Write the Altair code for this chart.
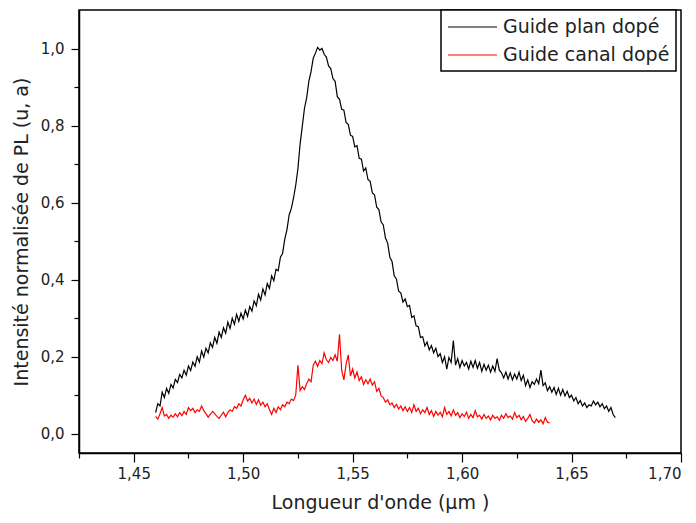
import altair as alt
import pandas as pd

# Wavelength grid (µm): first sample and spacing of the recorded spectra
X_START = 1.460
X_STEP = 0.001

# Normalised PL intensity, planar doped guide (1.460 -> 1.670 µm)
plan = [
    0.055, 0.078, 0.072, 0.108, 0.094, 0.118, 0.105, 0.128, 0.119, 0.141,
    0.133, 0.154, 0.145, 0.165, 0.152, 0.176, 0.164, 0.186, 0.175, 0.2,
    0.186, 0.215, 0.199, 0.222, 0.21, 0.236, 0.224, 0.25, 0.235, 0.264,
    0.25, 0.275, 0.261, 0.29, 0.273, 0.3, 0.284, 0.31, 0.292, 0.313,
    0.298, 0.321, 0.305, 0.33, 0.318, 0.345, 0.332, 0.362, 0.347, 0.376,
    0.36, 0.39, 0.377, 0.41, 0.397, 0.427, 0.423, 0.458, 0.468, 0.505,
    0.53, 0.568, 0.585, 0.612, 0.645, 0.688, 0.752, 0.798, 0.845, 0.872,
    0.915, 0.94, 0.975, 0.988, 1.003, 0.996, 1.0, 0.985, 0.978, 0.955,
    0.948, 0.922, 0.915, 0.875, 0.868, 0.842, 0.84, 0.808, 0.803, 0.775,
    0.772, 0.745, 0.748, 0.715, 0.713, 0.682, 0.69, 0.66, 0.655, 0.625,
    0.62, 0.588, 0.582, 0.55, 0.542, 0.508, 0.495, 0.458, 0.447, 0.41,
    0.402, 0.37, 0.366, 0.342, 0.35, 0.33, 0.333, 0.302, 0.306, 0.28,
    0.278, 0.25, 0.252, 0.228, 0.238, 0.218, 0.229, 0.21, 0.222, 0.2,
    0.208, 0.185, 0.2, 0.168, 0.198, 0.185, 0.242, 0.178, 0.195, 0.172,
    0.19, 0.176, 0.185, 0.168, 0.188, 0.172, 0.19, 0.17, 0.185, 0.162,
    0.18, 0.165, 0.178, 0.16, 0.176, 0.162, 0.195, 0.165, 0.158, 0.145,
    0.16, 0.142, 0.158, 0.14, 0.155, 0.142, 0.16, 0.138, 0.152, 0.125,
    0.14, 0.12, 0.135, 0.128, 0.142, 0.13, 0.165, 0.125, 0.132, 0.112,
    0.122, 0.108, 0.12, 0.102, 0.118, 0.1, 0.115, 0.098, 0.11, 0.094,
    0.1, 0.085, 0.094, 0.078, 0.086, 0.072, 0.08, 0.068, 0.075, 0.072,
    0.085, 0.075, 0.082, 0.07, 0.078, 0.065, 0.072, 0.058, 0.068, 0.05,
    0.042,
]

# Normalised PL intensity, channel doped guide (1.460 -> 1.640 µm)
canal = [
    0.045, 0.038, 0.052, 0.068, 0.046, 0.05, 0.04, 0.048, 0.043, 0.052,
    0.044, 0.055, 0.047, 0.058, 0.05, 0.068, 0.06, 0.066, 0.055, 0.062,
    0.058, 0.072, 0.06, 0.052, 0.043, 0.05, 0.058, 0.052, 0.045, 0.04,
    0.048, 0.056, 0.044, 0.055, 0.062, 0.058, 0.07, 0.066, 0.078, 0.072,
    0.088, 0.1, 0.085, 0.092, 0.08, 0.09, 0.076, 0.088, 0.074, 0.082,
    0.07, 0.078, 0.062, 0.05, 0.066, 0.055, 0.07, 0.062, 0.075, 0.07,
    0.082, 0.078, 0.09, 0.086, 0.1, 0.178, 0.112, 0.122, 0.115, 0.13,
    0.142, 0.135, 0.178, 0.188, 0.175, 0.19, 0.182, 0.21, 0.192, 0.185,
    0.198, 0.19, 0.205, 0.188, 0.258, 0.165, 0.14, 0.18, 0.205, 0.15,
    0.168, 0.145, 0.16, 0.138, 0.148, 0.128, 0.14, 0.13, 0.142, 0.126,
    0.135, 0.11, 0.118, 0.098, 0.094, 0.082, 0.088, 0.075, 0.08, 0.068,
    0.076, 0.064, 0.072, 0.06, 0.07, 0.058, 0.068, 0.055, 0.075, 0.058,
    0.066, 0.052, 0.062, 0.055, 0.068, 0.05, 0.06, 0.045, 0.058, 0.048,
    0.056, 0.044, 0.068, 0.05, 0.058, 0.046, 0.062, 0.048, 0.055, 0.042,
    0.052, 0.045, 0.056, 0.04, 0.05, 0.042, 0.06, 0.044, 0.048, 0.038,
    0.05, 0.04, 0.046, 0.036, 0.048, 0.04, 0.044, 0.035, 0.048, 0.04,
    0.052, 0.042, 0.046, 0.038, 0.055, 0.042, 0.048, 0.036, 0.045, 0.032,
    0.04, 0.05, 0.034, 0.028, 0.038, 0.03, 0.036, 0.026, 0.042, 0.03,
    0.028,
]

series_names = ["Guide plan dopé", "Guide canal dopé"]
series_colors = ["#000000", "#ff0000"]

x_domain = [1.425, 1.70]
y_domain = [-0.05, 1.10]
x_ticks = [1.425, 1.45, 1.475, 1.50, 1.525, 1.55, 1.575, 1.60, 1.625, 1.65, 1.675, 1.70]
y_ticks = [0.0, 0.1, 0.2, 0.3, 0.4, 0.5, 0.6, 0.7, 0.8, 0.9, 1.0]

rows = []
for name, values in zip(series_names, [plan, canal]):
    for i, v in enumerate(values):
        rows.append({"wl": round(X_START + i * X_STEP, 4), "pl": v, "serie": name})
df = pd.DataFrame(rows)

FONT = "DejaVu Sans"

x_axis = alt.Axis(
    values=x_ticks,
    labelExpr="round(datum.value*40) % 2 == 1 ? '' : replace(format(datum.value, '.2f'), '.', ',')",
    tickSize={"condition": {"test": "round(datum.value*40) % 2 == 1", "value": 5}, "value": 9},
    grid=False,
    title="Longueur d'onde (µm )",
    titleFontSize=19,
    titleFontWeight="normal",
    titlePadding=12,
    labelFontSize=15,
    labelPadding=4,
)
y_axis = alt.Axis(
    values=y_ticks,
    labelExpr="round(datum.value*10) % 2 == 1 ? '' : replace(format(datum.value, '.1f'), '.', ',')",
    tickSize={"condition": {"test": "round(datum.value*10) % 2 == 1", "value": 5}, "value": 8},
    grid=False,
    title="Intensité normalisée  de PL (u, a)",
    titleFontSize=19,
    titleFontWeight="normal",
    titlePadding=9,
    labelFontSize=15,
    labelPadding=7,
)

chart = (
    alt.Chart(df)
    .mark_line(strokeWidth=1.2, clip=True)
    .encode(
        x=alt.X("wl:Q", scale=alt.Scale(domain=x_domain, nice=False, zero=False), axis=x_axis),
        y=alt.Y("pl:Q", scale=alt.Scale(domain=y_domain, nice=False, zero=False), axis=y_axis),
        color=alt.Color(
            "serie:N",
            scale=alt.Scale(domain=series_names, range=series_colors),
            legend=alt.Legend(
                title=None,
                orient="none",
                legendX=362,
                legendY=0,
                direction="vertical",
                strokeColor="#000000",
                fillColor="#ffffff",
                padding=6,
                labelFont=FONT,
                labelFontSize=19,
                labelColor="#222222",
                labelLimit=400,
                symbolType="M-1,0H3.9",
                symbolSize=400,
                symbolStrokeWidth=1.2,
                labelOffset=34,
                rowPadding=7,
            ),
        ),
        order="wl:Q",
    )
    .properties(
        width=602,
        height=443,
        autosize=alt.AutoSizeParams(type="none"),
        padding={"left": 71, "top": 2, "right": 6, "bottom": 68},
    )
    .configure(font=FONT)
    .configure_view(stroke="#000000", strokeWidth=1.5)
    .configure_axis(
        domainColor="#000000",
        domainWidth=1.5,
        tickColor="#000000",
        tickWidth=1.2,
        labelColor="#222222",
        titleColor="#222222",
        labelFont=FONT,
        titleFont=FONT,
    )
    .configure_legend(strokeWidth=1.5)
)

chart.save("out.html", embed_options={"renderer": "svg", "actions": False})
